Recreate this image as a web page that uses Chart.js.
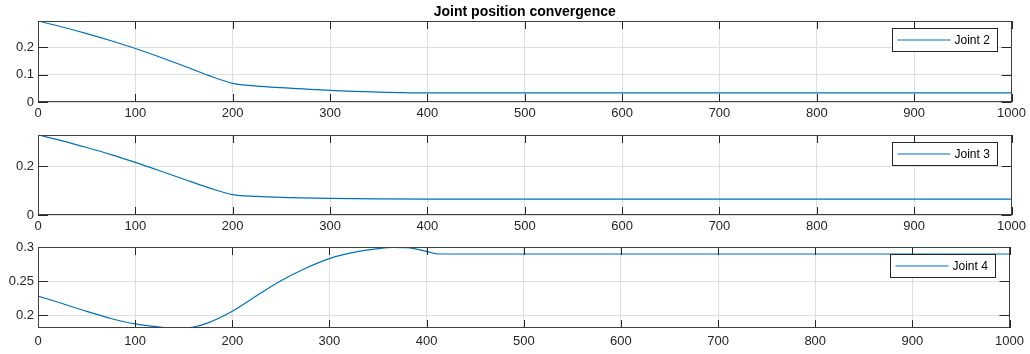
<!DOCTYPE html>
<html>
<head>
<meta charset="utf-8">
<script src="https://cdn.jsdelivr.net/npm/chart.js@4.4.1/dist/chart.umd.min.js"></script>
<style>
  body { margin: 0; background: #fff; }
  canvas { position: absolute; left: 0; }
</style>
</head>
<body>
<canvas id="joint2" width="1030" height="124" style="top:0px"></canvas>
<canvas id="joint3" width="1030" height="114" style="top:124px"></canvas>
<canvas id="joint4" width="1030" height="116" style="top:238px"></canvas>
<script>
// values
var xTicks = [0, 100, 200, 300, 400, 500, 600, 700, 800, 900, 1000];

var stepsA = [0, 25, 50, 75, 100, 125, 150, 175, 200, 225, 250, 300, 350, 400, 1000];
var joint2 = [0.295, 0.273, 0.249, 0.223, 0.195, 0.164, 0.131, 0.097, 0.068, 0.058, 0.052, 0.042, 0.036, 0.033, 0.033];
var joint3 = [0.327, 0.303, 0.276, 0.247, 0.215, 0.181, 0.146, 0.112, 0.083, 0.076, 0.072, 0.068, 0.066, 0.065, 0.065];

var stepsB = [0, 25, 50, 75, 100, 125, 140, 160, 175, 200, 225, 250, 275, 300, 325, 350, 365, 380, 400, 412, 1000];
var joint4 = [0.228, 0.217, 0.2055, 0.195, 0.187, 0.1825, 0.1808, 0.1825, 0.1885, 0.2055, 0.2285, 0.2505, 0.2685, 0.283, 0.292, 0.2975, 0.2995, 0.299, 0.2935, 0.2897, 0.2897];

var yTicks2 = [0, 0.1, 0.2];
var yTicks3 = [0, 0.2];
var yTicks4 = [0.2, 0.25, 0.3];

var lineColor = '#0072BD';
var axisColor = '#262626';
var fontFam = "'Liberation Sans', Arial, Helvetica, sans-serif";

function pairs(xs, ys) {     // x/y points for a linear x axis
    var out = [];
    for (var i = 0; i < xs.length; i++) {
        out.push({x: xs[i], y: ys[i]});
    }
    return out;
}

// matlab look: box, inward ticks and a boxed legend in the top right corner
var matlabAxes = {
    id: 'matlabAxes',
    afterDatasetsDraw: function(chart) {
        var ctx = chart.ctx;
        var a = chart.chartArea;
        var xs = chart.scales.x, ys = chart.scales.y;
        ctx.save();
        ctx.strokeStyle = axisColor;
        ctx.lineWidth = 1;
        ctx.beginPath();
        xs.ticks.forEach(function(t) {
            var px = Math.round(xs.getPixelForValue(t.value)) + 0.5;
            ctx.moveTo(px, a.bottom); ctx.lineTo(px, a.bottom - 8);
            ctx.moveTo(px, a.top); ctx.lineTo(px, a.top + 8);
        });
        ys.ticks.forEach(function(t) {
            var py = Math.round(ys.getPixelForValue(t.value)) + 0.5;
            ctx.moveTo(a.left, py); ctx.lineTo(a.left + 10, py);
            ctx.moveTo(a.right, py); ctx.lineTo(a.right - 10, py);
        });
        ctx.stroke();
        ctx.strokeStyle = '#404040';
        ctx.strokeRect(Math.round(a.left) + 0.5, Math.round(a.top) + 0.5,
                       Math.round(a.right - a.left) - 1, Math.round(a.bottom - a.top) - 1);

        // legend
        var ds = chart.data.datasets[0];
        var bw = 105, bh = 23;
        var bx = Math.round(a.right - 15 - bw) + 0.5, by = Math.round(a.top + 7) + 0.5;
        ctx.fillStyle = '#fff';
        ctx.fillRect(bx, by, bw, bh);
        ctx.strokeStyle = axisColor;
        ctx.strokeRect(bx, by, bw, bh);
        ctx.strokeStyle = ds.borderColor;
        ctx.lineWidth = 1.2;
        ctx.beginPath();
        ctx.moveTo(bx + 5, by + bh / 2);
        ctx.lineTo(bx + 58, by + bh / 2);
        ctx.stroke();
        ctx.fillStyle = '#000';
        ctx.font = '12px ' + fontFam;
        ctx.textBaseline = 'middle';
        ctx.fillText(ds.label, bx + 62, by + bh / 2 + 0.5);
        ctx.restore();
    }
};

function makePlot(id, label, xs, ys, yMin, yMax, yTicks, padTop, xHeight, labelPad, title) {
    var ctx = document.getElementById(id);
    return new Chart(ctx, {
        type: 'line',
        data: {
            datasets: [{
                label: label,
                data: pairs(xs, ys),
                borderColor: lineColor,
                borderWidth: 1.2,
                pointRadius: 0,
                cubicInterpolationMode: 'monotone',
                fill: false
            }]
        },
        options: {
            responsive: false,
            animation: false,
            layout: {
                padding: {top: padTop, right: 18, left: 0, bottom: 0}
            },
            plugins: {
                legend: {display: false},
                tooltip: {enabled: false},
                title: {
                    display: !!title,
                    text: title,
                    fullSize: false,
                    color: '#000',
                    font: {family: fontFam, size: 14, weight: 'bold', lineHeight: 1.2},
                    padding: {top: 3.5, bottom: 0.7}
                }
            },
            scales: {
                x: {
                    type: 'linear',
                    min: 0,
                    max: 1000,
                    afterBuildTicks: function(s) {
                        s.ticks = xTicks.map(function(v) { return {value: v}; });
                    },
                    afterFit: function(s) { s.height = xHeight; },
                    grid: {color: '#dfdfdf', drawTicks: false},
                    border: {display: false},
                    ticks: {color: axisColor, padding: labelPad, maxRotation: 0,
                            font: {family: fontFam, size: 13},
                            callback: function(v) { return String(v); }}
                },
                y: {
                    min: yMin,
                    max: yMax,
                    afterBuildTicks: function(s) {
                        s.ticks = yTicks.map(function(v) { return {value: v}; });
                    },
                    afterFit: function(s) {
                        s.width = 38;
                        s.paddingTop = 0;       // let labels overflow like matlab does
                        s.paddingBottom = 0;
                    },
                    grid: {color: '#dfdfdf', drawTicks: false},
                    border: {display: false},
                    ticks: {color: axisColor, padding: 4,
                            font: {family: fontFam, size: 13},
                            callback: function(v) { return String(Math.round(v * 1000) / 1000); }}
                }
            }
        },
        plugins: [matlabAxes]
    });
}

makePlot('joint2', 'Joint 2', stepsA, joint2, 0, 0.295, yTicks2, 0, 22, 4, 'Joint position convergence');
makePlot('joint3', 'Joint 3', stepsA, joint3, 0, 0.327, yTicks3, 11, 23, 4, '');
makePlot('joint4', 'Joint 4', stepsB, joint4, 0.181, 0.3, yTicks4, 9, 26, 6, '');
</script>
</body>
</html>
